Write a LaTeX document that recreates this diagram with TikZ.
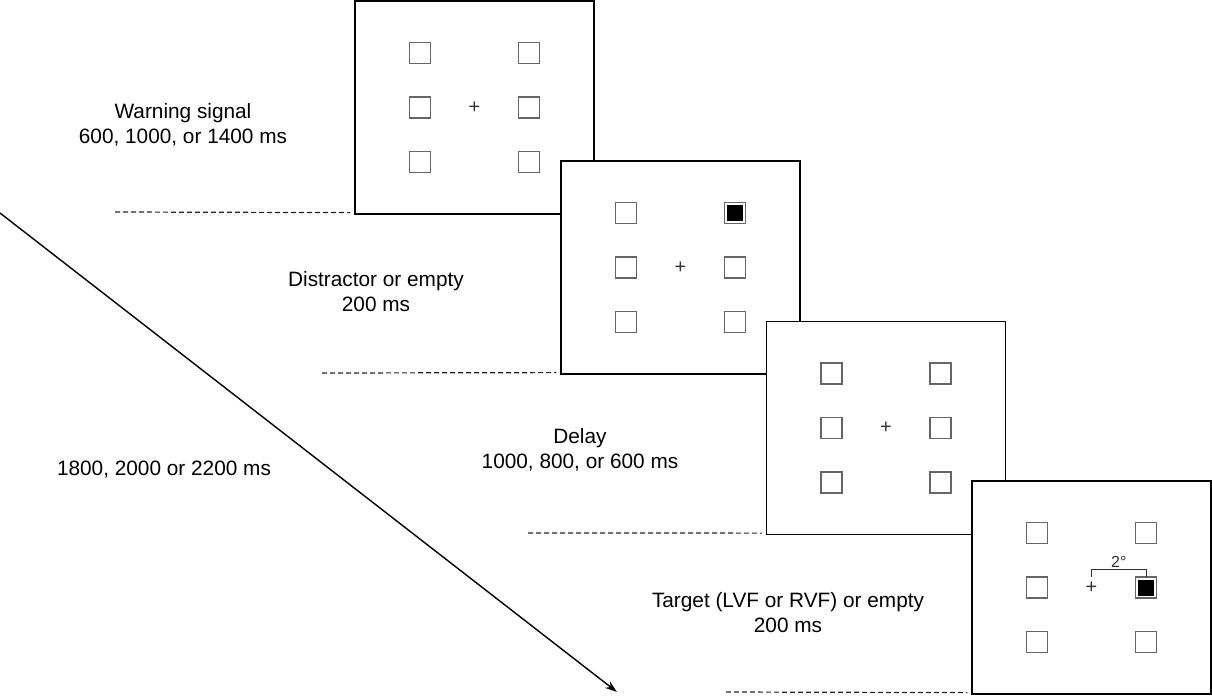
\documentclass[tikz,border=0pt]{standalone}
\usepackage{fontspec}
\setmainfont{Liberation Sans}
\usetikzlibrary{arrows.meta}
\begin{document}
\begin{tikzpicture}[x=1pt,y=-1pt,
  frame/.style={draw=black,fill=white,line width=1.2pt,minimum width=239pt,minimum height=213pt,inner sep=0pt},
  cue/.style={draw=black!60,line width=1.1pt,minimum size=21pt,inner sep=0pt},
  target/.style={cue,path picture={\fill[black] ([shift={(2.5pt,-2.5pt)}]path picture bounding box.north west) rectangle ([shift={(-2.5pt,2.5pt)}]path picture bounding box.south east);}},
  fix/.style={inner sep=0pt,font=\fontsize{20}{20}\selectfont,text=black!80},
  timing/.style={align=center,font=\fontsize{20.8}{25}\selectfont},
  mark line/.style={dash pattern=on 5pt off 3pt,line width=1.2pt,black!85}]
  \useasboundingbox (0,0) rectangle (1212,697);
  % the four displays
  \foreach \i/\x/\y in {1/474.5/107.5,2/680.5/267.5,3/886/428,4/1091.5/587.5} {
    \node[frame] (f\i) at (\x,\y) {};
    \node[fix] (f\i-fix) at (f\i.center) {+};
    \foreach \r/\dy in {1/-54.5,2/0,3/54.5} {
      \node[cue] (f\i-L\r) at (\x-54.5,\y+\dy) {};
      \node[cue] (f\i-R\r) at (\x+54.5,\y+\dy) {};
    }
  }
  \node[target] at (f2-R1) {};
  \node[target] at (f4-R2) {};
  % 2 degree bracket
  \draw[line width=1pt,black!80] ([yshift=11pt]f4.center) |- node[above=1pt,pos=0.75,inner sep=1pt,font=\fontsize{16}{16}\selectfont]{2°} ([yshift=18pt]f4-R2.center) -- ([yshift=11pt]f4-R2.center);
  % onset marks
  \coordinate (m1) at (115,212);
  \coordinate (m2) at (322,373);
  \coordinate (m3) at (528,533);
  \coordinate (m4) at (726,692);
  \foreach \i in {1,...,4}
    \draw[mark line] (m\i) -- ([xshift=-4pt,yshift=2pt]f\i.south west);
  % labels
  \node[timing] (t1) at (183,125) {Warning signal\\600, 1000, or 1400 ms};
  \node[timing] (t2) at (376,292) {Distractor or empty\\200 ms};
  \node[timing] (t3) at (580,450) {Delay\\1000, 800, or 600 ms};
  \node[timing] (t4) at (788,613) {Target (LVF or RVF) or empty\\200 ms};
  \node[timing] (total) at (164,470) {1800, 2000 or 2200 ms};
  % time axis
  \coordinate (a0) at (0,213);
  \coordinate (a1) at (617,692);
  \draw[line width=1.4pt,-{Stealth[length=12pt,width=8pt]}] (a0) -- (a1);
\end{tikzpicture}
\end{document}
